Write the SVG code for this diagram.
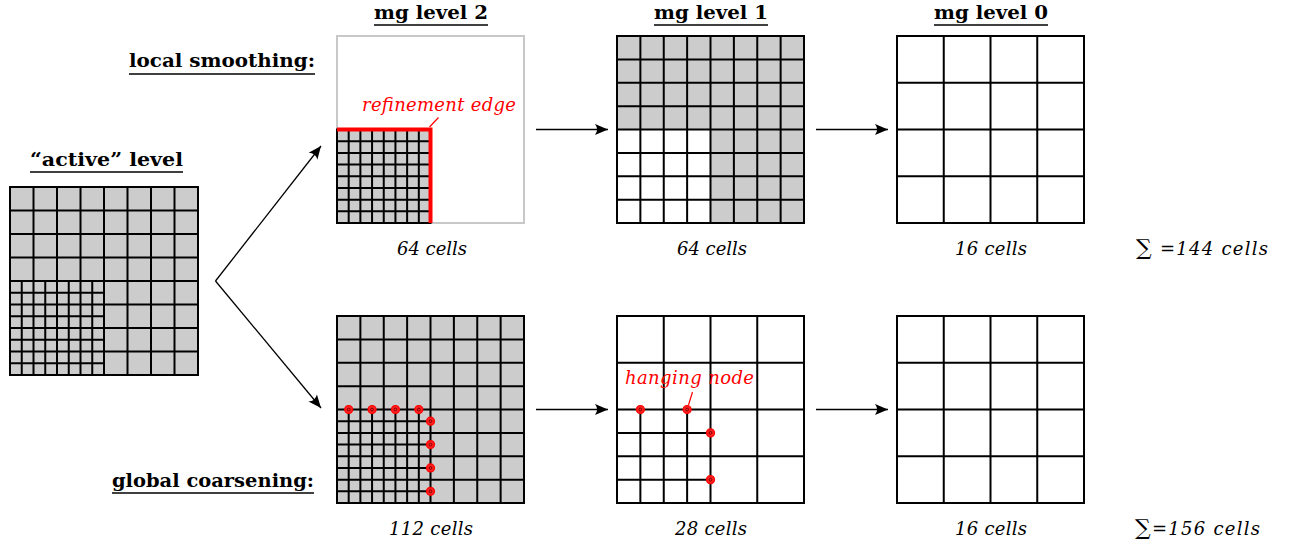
<svg xmlns="http://www.w3.org/2000/svg" width="1292" height="545" viewBox="0 0 1292 545">
  <style>
    .grid { fill: none; stroke: #000; stroke-width: 2; stroke-linecap: square; }
    .gray { fill: #cccccc; stroke: none; }
    .white { fill: #ffffff; stroke: none; }
    .frame { fill: #ffffff; stroke: #c8c8c8; stroke-width: 2; }
    .refine { fill: none; stroke: #ff0000; stroke-width: 4; }
    .leader { fill: none; stroke: #ff0000; stroke-width: 1.2; }
    .hang { fill: #ff2020; stroke: #ff0000; stroke-width: 1.2; }
    .hang-c { fill: none; stroke: #700000; stroke-width: 0.9; }
    .conn { fill: none; stroke: #000; stroke-width: 1.3; marker-end: url(#stealth); }
    .head { font-family: "DejaVu Serif", "Liberation Serif", serif; font-weight: bold; font-size: 19px; fill: #000; }
    .uline { stroke: #000; stroke-width: 1.4; }
    .lab { font-family: "DejaVu Serif", "Liberation Serif", serif; font-style: italic; font-size: 18px; fill: #000; }
    .red { fill: #ff0000; }
    .sum { font-style: normal; font-size: 22px; }
  </style>
  <defs>
    <marker id="stealth" viewBox="-14 -7 16 14" markerWidth="16" markerHeight="14" refX="0" refY="0" orient="auto" markerUnits="userSpaceOnUse">
      <path d="M0,0 L-13,-5.5 Q-9,0 -13,5.5 Z" fill="#000"/>
    </marker>
  </defs>

  <!-- headings -->
  <g id="headings">
    <text class="head" x="374" y="19" textLength="114" lengthAdjust="spacingAndGlyphs">mg level 2</text>
    <line class="uline" x1="374" y1="25" x2="488" y2="25"/>
    <text class="head" x="654" y="19" textLength="114" lengthAdjust="spacingAndGlyphs">mg level 1</text>
    <line class="uline" x1="654" y1="25" x2="768" y2="25"/>
    <text class="head" x="934" y="19" textLength="114" lengthAdjust="spacingAndGlyphs">mg level 0</text>
    <line class="uline" x1="934" y1="25" x2="1048" y2="25"/>
    <text class="head" x="129" y="67" textLength="186" lengthAdjust="spacingAndGlyphs">local smoothing:</text>
    <line class="uline" x1="129" y1="74" x2="315" y2="74"/>
    <text class="head" x="30" y="166" textLength="153" lengthAdjust="spacingAndGlyphs">“active” level</text>
    <line class="uline" x1="30" y1="172" x2="183" y2="172"/>
    <text class="head" x="112" y="487" textLength="202" lengthAdjust="spacingAndGlyphs">global coarsening:</text>
    <line class="uline" x1="112" y1="493" x2="314" y2="493"/>
  </g>

  <!-- active level: 8x8 coarse cells, lower-left quarter refined once -->
  <g id="active-level">
    <rect class="gray" x="10" y="187" width="188" height="188"/>
    <path class="grid" d="M10,187H198M10,210.5H198M10,234H198M10,257.5H198M10,281H198M10,304.5H198M10,328H198M10,351.5H198M10,375H198
      M10,187V375M33.5,187V375M57,187V375M80.5,187V375M104,187V375M127.5,187V375M151,187V375M174.5,187V375M198,187V375
      M10,292.75H104M10,316.25H104M10,339.75H104M10,363.25H104
      M21.75,281V375M45.25,281V375M68.75,281V375M92.25,281V375"/>
  </g>

  <!-- local smoothing, mg level 2 -->
  <g id="mg2-local">
    <rect class="frame" x="337" y="36" width="187" height="187"/>
    <rect class="gray" x="337" y="129.5" width="93.5" height="93.5"/>
    <path class="grid" d="M337,141.1875H430.5M337,152.875H430.5M337,164.5625H430.5M337,176.25H430.5M337,187.9375H430.5M337,199.625H430.5M337,211.3125H430.5M337,223H430.5
      M337,129.5V223M348.6875,129.5V223M360.375,129.5V223M372.0625,129.5V223M383.75,129.5V223M395.4375,129.5V223M407.125,129.5V223M418.8125,129.5V223"/>
    <path class="refine" d="M337,129.5H430.5V223"/>
    <path class="leader" d="M429.5,127L438.5,117.5"/>
    <text class="lab red" x="362" y="111" textLength="154">refinement edge</text>
  </g>

  <!-- local smoothing, mg level 1 -->
  <g id="mg1-local">
    <rect class="gray" x="617" y="36" width="187" height="187"/>
    <rect class="white" x="617" y="129.5" width="93.5" height="93.5"/>
    <path class="grid" d="M617,36H804M617,59.375H804M617,82.75H804M617,106.125H804M617,129.5H804M617,152.875H804M617,176.25H804M617,199.625H804M617,223H804
      M617,36V223M640.375,36V223M663.75,36V223M687.125,36V223M710.5,36V223M733.875,36V223M757.25,36V223M780.625,36V223M804,36V223"/>
  </g>

  <!-- local smoothing, mg level 0 -->
  <g id="mg0-local">
    <rect class="white" x="897" y="36" width="187" height="187"/>
    <path class="grid" d="M897,36H1084M897,82.75H1084M897,129.5H1084M897,176.25H1084M897,223H1084
      M897,36V223M943.75,36V223M990.5,36V223M1037.25,36V223M1084,36V223"/>
  </g>

  <!-- global coarsening, mg level 2 -->
  <g id="mg2-global">
    <rect class="gray" x="337" y="316" width="187" height="187"/>
    <path class="grid" d="M337,316H524M337,339.375H524M337,362.75H524M337,386.125H524M337,409.5H524M337,432.875H524M337,456.25H524M337,479.625H524M337,503H524
      M337,316V503M360.375,316V503M383.75,316V503M407.125,316V503M430.5,316V503M453.875,316V503M477.25,316V503M500.625,316V503M524,316V503
      M337,421.1875H430.5M337,444.5625H430.5M337,467.9375H430.5M337,491.3125H430.5
      M348.6875,409.5V503M372.0625,409.5V503M395.4375,409.5V503M418.8125,409.5V503"/>
    <g id="mg2-hanging">
      <circle class="hang" cx="348.6875" cy="409.5" r="4"/><circle class="hang-c" cx="348.6875" cy="409.5" r="1.4"/>
      <circle class="hang" cx="372.0625" cy="409.5" r="4"/><circle class="hang-c" cx="372.0625" cy="409.5" r="1.4"/>
      <circle class="hang" cx="395.4375" cy="409.5" r="4"/><circle class="hang-c" cx="395.4375" cy="409.5" r="1.4"/>
      <circle class="hang" cx="418.8125" cy="409.5" r="4"/><circle class="hang-c" cx="418.8125" cy="409.5" r="1.4"/>
      <circle class="hang" cx="430.5" cy="421.1875" r="4"/><circle class="hang-c" cx="430.5" cy="421.1875" r="1.4"/>
      <circle class="hang" cx="430.5" cy="444.5625" r="4"/><circle class="hang-c" cx="430.5" cy="444.5625" r="1.4"/>
      <circle class="hang" cx="430.5" cy="467.9375" r="4"/><circle class="hang-c" cx="430.5" cy="467.9375" r="1.4"/>
      <circle class="hang" cx="430.5" cy="491.3125" r="4"/><circle class="hang-c" cx="430.5" cy="491.3125" r="1.4"/>
    </g>
  </g>

  <!-- global coarsening, mg level 1 -->
  <g id="mg1-global">
    <rect class="white" x="617" y="316" width="187" height="187"/>
    <path class="grid" d="M617,316H804M617,362.75H804M617,409.5H804M617,456.25H804M617,503H804
      M617,316V503M663.75,316V503M710.5,316V503M757.25,316V503M804,316V503
      M617,432.875H710.5M617,479.625H710.5
      M640.375,409.5V503M687.125,409.5V503"/>
    <path class="leader" d="M688.5,405L692.5,392"/>
    <text class="lab red" x="625" y="384" textLength="129">hanging node</text>
    <g id="mg1-hanging">
      <circle class="hang" cx="640.375" cy="409.5" r="4"/><circle class="hang-c" cx="640.375" cy="409.5" r="1.4"/>
      <circle class="hang" cx="687.125" cy="409.5" r="4"/><circle class="hang-c" cx="687.125" cy="409.5" r="1.4"/>
      <circle class="hang" cx="710.5" cy="432.875" r="4"/><circle class="hang-c" cx="710.5" cy="432.875" r="1.4"/>
      <circle class="hang" cx="710.5" cy="479.625" r="4"/><circle class="hang-c" cx="710.5" cy="479.625" r="1.4"/>
    </g>
  </g>

  <!-- global coarsening, mg level 0 -->
  <g id="mg0-global">
    <rect class="white" x="897" y="316" width="187" height="187"/>
    <path class="grid" d="M897,316H1084M897,362.75H1084M897,409.5H1084M897,456.25H1084M897,503H1084
      M897,316V503M943.75,316V503M990.5,316V503M1037.25,316V503M1084,316V503"/>
  </g>

  <!-- connectors -->
  <g id="connectors">
    <path class="conn" d="M215.5,281L321,146"/>
    <path class="conn" d="M215.5,281L321,408"/>
    <path class="conn" d="M536,129.5H608"/>
    <path class="conn" d="M816,129.5H888"/>
    <path class="conn" d="M536,409.5H608"/>
    <path class="conn" d="M816,409.5H888"/>
  </g>

  <!-- cell counts -->
  <g id="counts">
    <text class="lab" x="397" y="255" textLength="70">64 cells</text>
    <text class="lab" x="677" y="255" textLength="70">64 cells</text>
    <text class="lab" x="955" y="255" textLength="72">16 cells</text>
    <text class="lab" x="1136" y="255" textLength="132"><tspan class="sum">∑</tspan> =144 cells</text>
    <text class="lab" x="389" y="535" textLength="84">112 cells</text>
    <text class="lab" x="675" y="535" textLength="72">28 cells</text>
    <text class="lab" x="955" y="535" textLength="72">16 cells</text>
    <text class="lab" x="1135" y="535" textLength="125"><tspan class="sum">∑</tspan>=156 cells</text>
  </g>
</svg>
